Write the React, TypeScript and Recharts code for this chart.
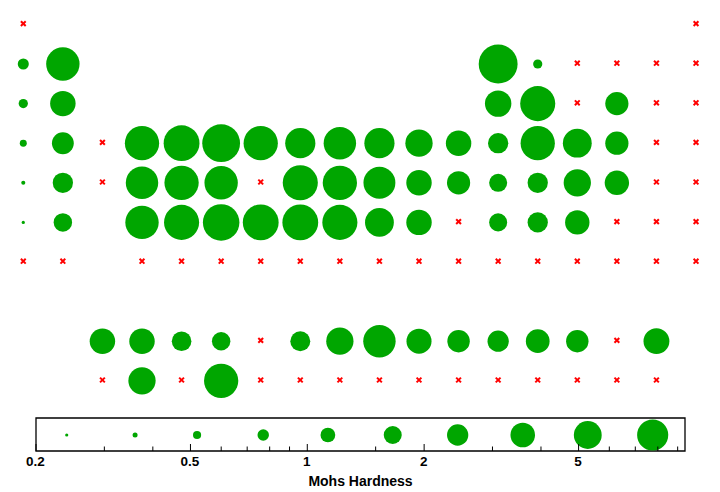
import React from 'react';
import { ScatterChart, Scatter, XAxis, YAxis, ReferenceArea } from 'recharts';

// Element symbols in atomic-number order
const symbols = [
  'H', 'He',
  'Li', 'Be', 'B', 'C', 'N', 'O', 'F', 'Ne',
  'Na', 'Mg', 'Al', 'Si', 'P', 'S', 'Cl', 'Ar',
  'K', 'Ca', 'Sc', 'Ti', 'V', 'Cr', 'Mn', 'Fe', 'Co', 'Ni', 'Cu', 'Zn', 'Ga', 'Ge', 'As', 'Se', 'Br', 'Kr',
  'Rb', 'Sr', 'Y', 'Zr', 'Nb', 'Mo', 'Tc', 'Ru', 'Rh', 'Pd', 'Ag', 'Cd', 'In', 'Sn', 'Sb', 'Te', 'I', 'Xe',
  'Cs', 'Ba', 'La', 'Ce', 'Pr', 'Nd', 'Pm', 'Sm', 'Eu', 'Gd', 'Tb', 'Dy', 'Ho', 'Er', 'Tm', 'Yb', 'Lu',
  'Hf', 'Ta', 'W', 'Re', 'Os', 'Ir', 'Pt', 'Au', 'Hg', 'Tl', 'Pb', 'Bi', 'Po', 'At', 'Rn',
  'Fr', 'Ra', 'Ac', 'Th', 'Pa', 'U', 'Np', 'Pu', 'Am', 'Cm', 'Bk', 'Cf', 'Es', 'Fm', 'Md', 'No', 'Lr',
  'Rf', 'Db', 'Sg', 'Bh', 'Hs', 'Mt', 'Ds', 'Rg', 'Cn', 'Nh', 'Fl', 'Mc', 'Lv', 'Ts', 'Og',
];

// Group (column) of each element in the table layout
const groups = [
  1, 18,
  1, 2, 13, 14, 15, 16, 17, 18,
  1, 2, 13, 14, 15, 16, 17, 18,
  1, 2, 3, 4, 5, 6, 7, 8, 9, 10, 11, 12, 13, 14, 15, 16, 17, 18,
  1, 2, 3, 4, 5, 6, 7, 8, 9, 10, 11, 12, 13, 14, 15, 16, 17, 18,
  1, 2, 3, 4, 5, 6, 7, 8, 9, 10, 11, 12, 13, 14, 15, 16, 17,
  4, 5, 6, 7, 8, 9, 10, 11, 12, 13, 14, 15, 16, 17, 18,
  1, 2, 3, 4, 5, 6, 7, 8, 9, 10, 11, 12, 13, 14, 15, 16, 17,
  4, 5, 6, 7, 8, 9, 10, 11, 12, 13, 14, 15, 16, 17, 18,
];

// Row of each element in the table layout (9 = lanthanides, 10 = actinides)
const periods = [
  1, 1,
  2, 2, 2, 2, 2, 2, 2, 2,
  3, 3, 3, 3, 3, 3, 3, 3,
  4, 4, 4, 4, 4, 4, 4, 4, 4, 4, 4, 4, 4, 4, 4, 4, 4, 4,
  5, 5, 5, 5, 5, 5, 5, 5, 5, 5, 5, 5, 5, 5, 5, 5, 5, 5,
  6, 6, 9, 9, 9, 9, 9, 9, 9, 9, 9, 9, 9, 9, 9, 9, 9,
  6, 6, 6, 6, 6, 6, 6, 6, 6, 6, 6, 6, 6, 6, 6,
  7, 7, 10, 10, 10, 10, 10, 10, 10, 10, 10, 10, 10, 10, 10, 10, 10,
  7, 7, 7, 7, 7, 7, 7, 7, 7, 7, 7, 7, 7, 7, 7,
];

// Mohs hardness (null = missing)
const hardness: (number | null)[] = [
  null, null,
  0.6, 5.5, 9.5, 0.5, null, null, null, null,
  0.5, 2.5, 2.75, 6.5, null, 2, null, null,
  0.4, 1.75, null, 6, 7, 8.5, 6, 4, 5, 4, 3, 2.5, 1.5, 6, 3.5, 2, null, null,
  0.3, 1.5, null, 5, 6, 5.5, null, 6.5, 6, 4.75, 2.5, 2, 1.2, 1.5, 3, 2.25, null, null,
  0.2, 1.25, 2.5, 2.5, 1.4, 1.25, null, 1.45, 3, 5, 2.4, 1.85, 1.65, 2.1, 1.85, null, 2.6,
  5.5, 6.5, 7.5, 7, 7, 6.5, 3.5, 2.5, null, 1.2, 1.5, 2.25, null, null, null,
  null, null, null, 3, null, 6, null, null, null, null, null, null, null, null, null, null, null,
  null, null, null, null, null, null, null, null, null, null, null, null, null, null, null,
];

// Legend scale
const legendHardness = [0.24, 0.36, 0.52, 0.77, 1.13, 1.66, 2.44, 3.59, 5.28, 7.76];
const axisTicks = [0.2, 0.3, 0.4, 0.5, 0.6, 0.7, 0.8, 0.9, 1, 1.5, 2, 3, 4, 5, 6, 7, 8, 9];
const majorTicks = [0.2, 0.5, 1, 2, 5];
const axisDomain = [0.2, 9.4];

const GREEN = '#00A600';
const RED = '#FF0000';
const FONT = '"Liberation Sans", Arial, Helvetica, sans-serif';

const elements = symbols.map((s, i) => ({ symbol: s, col: groups[i], row: periods[i], h: hardness[i] }));
const known = elements.filter((e) => e.h != null);
const missing = elements.filter((e) => e.h == null);
const legendData = legendHardness.map((h) => ({ h, y: 0.5 }));

const Bubble = (props: any) => {
  const { cx, cy, payload } = props;
  const r = Math.max(1.6, 11.6 * Math.log10(payload.h / 0.2));
  return <circle cx={cx} cy={cy + 0.4} r={r} fill={GREEN} />;
};

const LegendBubble = (props: any) => {
  const { cx, cy, payload } = props;
  const r = Math.max(1.6, 9.8 * Math.log10(payload.h / 0.2));
  return <circle cx={cx} cy={cy + 0.5} r={r} fill={GREEN} />;
};

const Cross = (props: any) => {
  const { cx, cy } = props;
  const d = 2.4;
  const y = cy - 0.4;
  return (
    <g stroke={RED} strokeWidth={2}>
      <line x1={cx - d} y1={y - d} x2={cx + d} y2={y + d} />
      <line x1={cx - d} y1={y + d} x2={cx + d} y2={y - d} />
    </g>
  );
};

const LogTick = (props: any) => {
  const { x, y, payload } = props;
  const v = payload.value;
  const major = majorTicks.some((m) => Math.abs(m - v) < 1e-9);
  return (
    <g>
      <line x1={x} x2={x} y1={y} y2={y - (major ? 7 : 4.5)} stroke="#000" strokeWidth={1} />
      {major && (
        <text x={x - 0.5} y={y + 15} textAnchor="middle" fontSize={13.5} fontWeight="bold" fontFamily={FONT} fill="#000">
          {String(v)}
        </text>
      )}
    </g>
  );
};

export default function App() {
  return (
    <div style={{ position: 'absolute', left: 0, top: 0, width: 720, height: 492, background: '#fff' }}>
      <div style={{ position: 'absolute', left: 0, top: 0 }}>
        <ScatterChart width={720} height={410} margin={{ top: 4.2, left: 3.5, right: 4.2, bottom: 9.8 }}>
          <XAxis type="number" dataKey="col" domain={[0.5, 18.5]} hide />
          <YAxis type="number" dataKey="row" domain={[0.5, 10.5]} reversed hide />
          <Scatter data={known} shape={Bubble} isAnimationActive={false} />
          <Scatter data={missing} shape={Cross} isAnimationActive={false} />
        </ScatterChart>
      </div>
      <div style={{ position: 'absolute', left: 0, top: 0 }}>
        <ScatterChart width={720} height={492} margin={{ top: 418, left: 36, right: 35, bottom: 0 }}>
          <XAxis
            type="number"
            dataKey="h"
            scale="log"
            domain={axisDomain}
            allowDataOverflow
            ticks={axisTicks}
            interval={0}
            tick={LogTick}
            tickLine={false}
            axisLine={false}
            tickSize={0}
            tickMargin={0}
            height={41}
            label={{
              value: 'Mohs Hardness',
              position: 'insideBottom',
              offset: 6,
              fontSize: 14,
              fontWeight: 'bold',
              fontFamily: FONT,
              fill: '#000',
            }}
          />
          <YAxis type="number" dataKey="y" domain={[0, 1]} hide />
          <ReferenceArea
            x1={axisDomain[0]}
            x2={axisDomain[1]}
            y1={0}
            y2={1}
            fill="none"
            fillOpacity={0}
            stroke="#000"
            strokeWidth={1.3}
            ifOverflow="visible"
          />
          <Scatter data={legendData} shape={LegendBubble} isAnimationActive={false} />
        </ScatterChart>
      </div>
    </div>
  );
}
